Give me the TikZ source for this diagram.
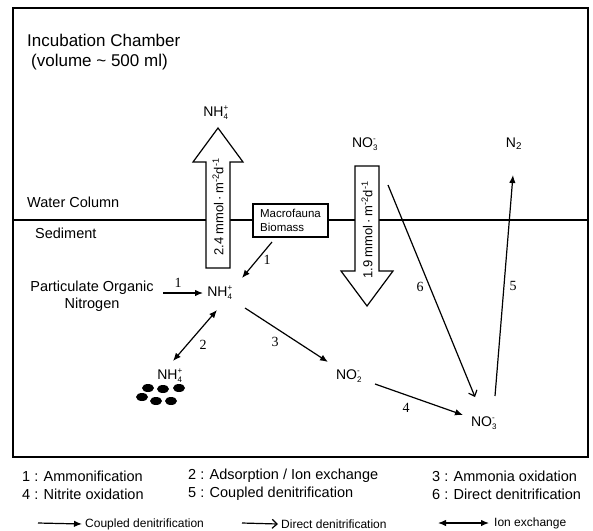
\documentclass[tikz,border=0pt]{standalone}
\usepackage{fontspec}
\setmainfont{Liberation Sans}
\newfontfamily\numfont{Liberation Serif}
\usetikzlibrary{arrows.meta}
\newcommand\chemion[3]{#1$^{\mbox{\fontsize{8}{8}\selectfont #3}}_{\mbox{\fontsize{8}{8}\selectfont #2}}$}
\begin{document}
\begin{tikzpicture}[x=1pt,y=-1pt,
  lbl/.style={font=\fontsize{14.5}{17}\selectfont, inner sep=0},
  chem/.style={font=\fontsize{14}{16}\selectfont, inner sep=0},
  num/.style={font=\numfont\fontsize{14}{16}\selectfont, inner sep=0},
  legend/.style={font=\fontsize{14.5}{17}\selectfont, inner sep=0, anchor=west},
  smalllegend/.style={font=\fontsize{12}{14}\selectfont, inner sep=0, anchor=west},
  conn/.style={line width=1.2pt, -{Latex[length=8pt,width=6.5pt]}},
  dconn/.style={line width=1.2pt, {Latex[length=8pt,width=6.5pt]}-{Latex[length=8pt,width=6.5pt]}},
  direct/.style={line width=1.2pt, -{Straight Barb[length=5pt,width=9pt]}},
  bigarrow/.style={line width=1.2pt, fill=white, draw=black},
  rottext/.style={font=\fontsize{13}{15}\selectfont, inner sep=0, rotate=90},
  dot/.style={fill=black}
]
\useasboundingbox (0,0) rectangle (593,530);

% chamber
\draw[line width=1.6pt] (13,8) rectangle (588,457);
% water / sediment interface
\draw[line width=1.2pt] (13,220) -- (588,220);

\node[anchor=west, align=left, inner sep=0, font=\fontsize{17}{20}\selectfont] (title) at (27,52)
  {Incubation Chamber\\\hspace{4pt}(volume \textasciitilde{} 500 ml)};
\node[lbl, anchor=west] (wc) at (27,202) {Water Column};
\node[lbl, anchor=west] (sed) at (35,233) {Sediment};

% big flux arrows
\draw[bigarrow] (206,268) -- (206,162) -- (193,162) -- (218,128) -- (243,162) -- (230,162) -- (230,268) -- cycle;
\node[rottext] (fluxup) at (218,207) {2.4 mmol\,·\,m\textsuperscript{-2}d\textsuperscript{-1}};
\draw[bigarrow] (355,166) -- (355,271) -- (341,271) -- (367,306) -- (393,271) -- (379,271) -- (379,166) -- cycle;
\node[rottext] (fluxdown) at (367,230) {1.9 mmol\,·\,m\textsuperscript{-2}d\textsuperscript{-1}};

\node[chem] (nhtop) at (216,113) {\chemion{NH}{4}{+}};
\node[chem] (no3top) at (365,144) {\chemion{NO}{3}{-}};
\node[chem] (n2) at (514,144) {N\textsubscript{2}};

\node[draw, line width=1.1pt, fill=white, minimum width=75pt, minimum height=33pt, inner sep=2pt,
  align=left, font=\fontsize{11.5}{14}\selectfont] (macro) at (290.5,220.5) {Macrofauna\\Biomass};

\node[lbl, align=center] (pom) at (92,296) {Particulate Organic\\Nitrogen};
\node[chem] (nh) at (220,293) {\chemion{NH}{4}{+}};
\node[chem] (nhb) at (170,376) {\chemion{NH}{4}{+}};
\node[chem] (no2) at (349,376) {\chemion{NO}{2}{-}};
\node[chem] (no3b) at (484,423) {\chemion{NO}{3}{-}};

% adsorbed particles
\fill[dot] (148,388) ellipse (6 and 4);
\fill[dot] (163,389) ellipse (6 and 4);
\fill[dot] (179,388) ellipse (6 and 4);
\fill[dot] (142,397) ellipse (6 and 4);
\fill[dot] (156,401) ellipse (6 and 4);
\fill[dot] (171,401) ellipse (6 and 4);

% connectors
\draw[conn] ([shift={(71,-3)}]pom.center) -- ([shift={(-17,0)}]nh.center);
\draw[conn] ([shift={(-18.5,21.5)}]macro.center) -- ([shift={(22,-15)}]nh.center);
\draw[dconn] ([shift={(-3,17)}]nh.center) -- ([shift={(3,-15)}]nhb.center);
\draw[conn] ([shift={(25,15)}]nh.center) -- ([shift={(-21,-14)}]no2.center);
\draw[conn] ([shift={(26,8)}]no2.center) -- ([shift={(-21,-8)}]no3b.center);
\draw[direct] ([shift={(23,41)}]no3top.center) -- ([shift={(-9,-26)}]no3b.center);
\draw[conn] ([shift={(11,-27)}]no3b.center) -- ([shift={(-1,31)}]n2.center);

% step numbers
\node[num] (s1a) at (178,283) {1};
\node[num] (s1b) at (267,260) {1};
\node[num] (s2) at (203,345) {2};
\node[num] (s3) at (275,342) {3};
\node[num] (s4) at (406,408) {4};
\node[num] (s6) at (420,287) {6};
\node[num] (s5) at (513,286) {5};

% legend
\node[legend] (g1) at (22,476) {1 : Ammonification};
\node[legend] (g2) at (188,476) {2 : Adsorption / Ion exchange};
\node[legend] (g3) at (432,476) {3 : Ammonia oxidation};
\node[legend] (g4) at (22,494) {4 : Nitrite oxidation};
\node[legend] (g5) at (188,494) {5 : Coupled denitrification};
\node[legend] (g6) at (432,494) {6 : Direct denitrification};

\coordinate (ka1) at (38,523);
\node[smalllegend] (kt1) at (85,524) {Coupled denitrification};
\draw[conn] (ka1) -- ([xshift=-3pt]kt1.west);
\coordinate (ka2) at (242,523);
\node[smalllegend] (kt2) at (281,524) {Direct denitrification};
\draw[direct] (ka2) -- ([xshift=-3pt]kt2.west);
\coordinate (ka3) at (438,523);
\node[smalllegend] (kt3) at (494,523) {Ion exchange};
\draw[dconn] (ka3) -- ([xshift=-5pt]kt3.west);
\end{tikzpicture}
\end{document}
